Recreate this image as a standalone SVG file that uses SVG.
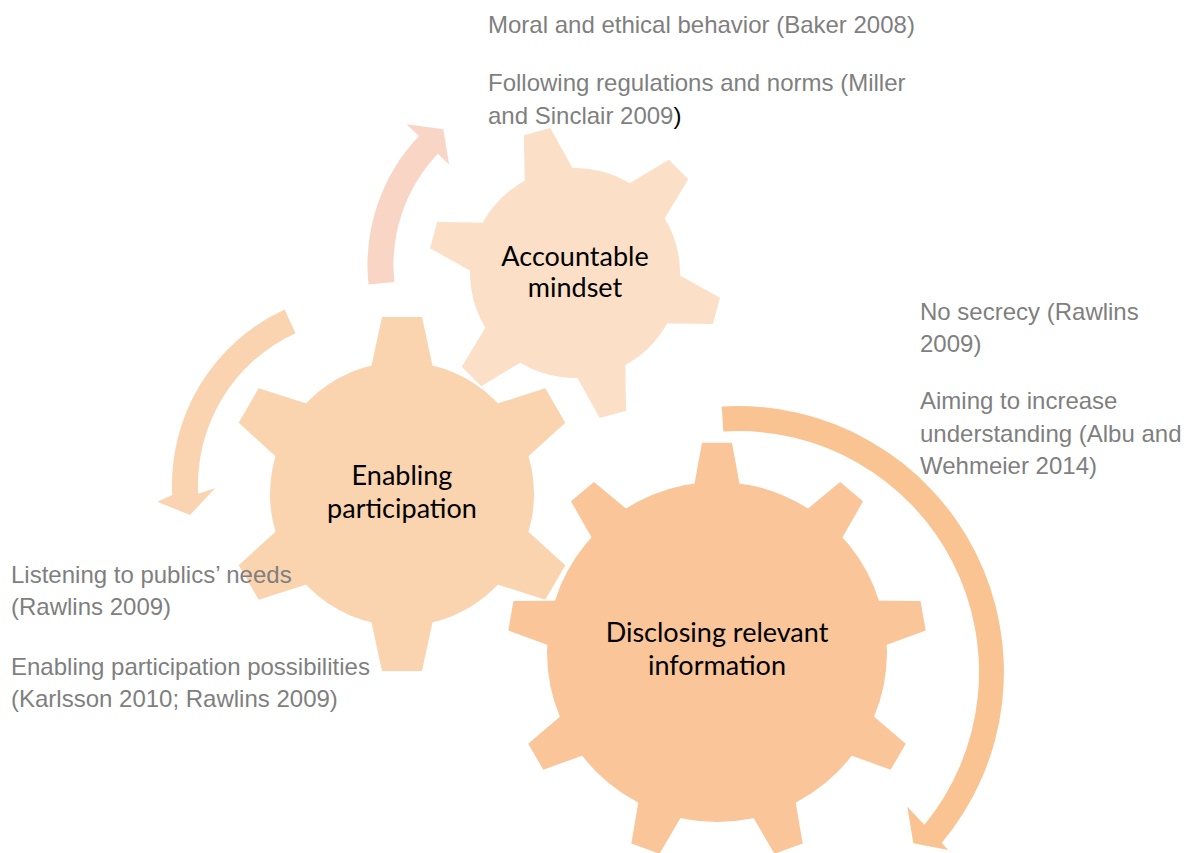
<svg xmlns="http://www.w3.org/2000/svg" xmlns:xlink="http://www.w3.org/1999/xlink" width="1192" height="853" viewBox="0 0 1192 853">
  <style>
    .halo { fill: #ffffff; stroke: #ffffff; stroke-width: 3; }
    .label { font-family: Lato, "Noto Sans", sans-serif; font-size: 27px; fill: #000000; text-anchor: middle; }
    .note { font-family: "Liberation Sans", Arial, sans-serif; font-size: 24px; fill: #7f7f7f; }
  </style>
  <defs>
    <!-- small gear: six teeth, body radius 105 -->
    <polygon id="tooth-s" points="-30.2,-80 -13.7,-146.4 13.7,-146.4 30.2,-80"/>
    <g id="gear-s" transform="rotate(-15)">
      <circle r="105"/>
      <use xlink:href="#tooth-s"/>
      <use xlink:href="#tooth-s" transform="rotate(60)"/>
      <use xlink:href="#tooth-s" transform="rotate(120)"/>
      <use xlink:href="#tooth-s" transform="rotate(180)"/>
      <use xlink:href="#tooth-s" transform="rotate(240)"/>
      <use xlink:href="#tooth-s" transform="rotate(300)"/>
    </g>
    <!-- medium gear: six teeth, body radius 132 -->
    <polygon id="tooth-m" points="-36.6,-100 -20,-177 20,-177 36.6,-100"/>
    <g id="gear-m">
      <circle r="132"/>
      <use xlink:href="#tooth-m"/>
      <use xlink:href="#tooth-m" transform="rotate(60)"/>
      <use xlink:href="#tooth-m" transform="rotate(120)"/>
      <use xlink:href="#tooth-m" transform="rotate(180)"/>
      <use xlink:href="#tooth-m" transform="rotate(240)"/>
      <use xlink:href="#tooth-m" transform="rotate(300)"/>
    </g>
    <!-- large gear: nine teeth, body radius 170 -->
    <polygon id="tooth-l" points="-27.6,-140 -15,-209.3 15,-209.3 27.6,-140"/>
    <g id="gear-l">
      <circle r="170"/>
      <use xlink:href="#tooth-l"/>
      <use xlink:href="#tooth-l" transform="rotate(40)"/>
      <use xlink:href="#tooth-l" transform="rotate(80)"/>
      <use xlink:href="#tooth-l" transform="rotate(120)"/>
      <use xlink:href="#tooth-l" transform="rotate(160)"/>
      <use xlink:href="#tooth-l" transform="rotate(200)"/>
      <use xlink:href="#tooth-l" transform="rotate(240)"/>
      <use xlink:href="#tooth-l" transform="rotate(280)"/>
      <use xlink:href="#tooth-l" transform="rotate(320)"/>
    </g>
  </defs>

  <rect width="1192" height="853" fill="#ffffff"/>

  <!-- circular arrows turning round each gear -->
  <g id="connectors">
    <path id="arrow-accountable" fill="#f8d5c5" d="M 368.53 284.60 A 187.5 187.5 0 0 1 418.99 135.93 L 406.66 124.23 L 443.3 129.3 L 449.10 164.50 L 437.85 153.83 A 161.5 161.5 0 0 0 394.39 281.88 Z"/>
    <path id="arrow-participation" fill="#fad3b0" d="M 284.66 309.52 A 193 193 0 0 0 172.26 495.10 L 157.3 501.7 L 190 515 L 215 488.3 L 198.23 493.74 A 167 167 0 0 1 295.48 333.16 Z"/>
    <path id="arrow-disclosing" fill="#f9c392" d="M 721.76 406.50 A 266 266 0 0 1 941.7 843.0 L 948.3 850 L 913.3 843.3 L 907.3 806.7 L 924.4 824.8 A 241 241 0 0 0 723.29 431.45 Z"/>
  </g>

  <g id="node-accountable">
    <use xlink:href="#gear-s" transform="translate(575,273)" class="halo"/>
    <use xlink:href="#gear-s" transform="translate(575,273)" fill="#fbdfc7"/>
    <text class="label" x="575" y="266">Accountable</text>
    <text class="label" x="575" y="297">mindset</text>
  </g>

  <g id="node-participation">
    <use xlink:href="#gear-m" transform="translate(402,494)" class="halo"/>
    <use xlink:href="#gear-m" transform="translate(402,494)" fill="#fad3af"/>
    <text class="label" x="402" y="485">Enabling</text>
    <text class="label" x="402" y="518">participation</text>
  </g>

  <g id="node-disclosing">
    <use xlink:href="#gear-l" transform="translate(717,652)" class="halo"/>
    <use xlink:href="#gear-l" transform="translate(717,652)" fill="#f9c599"/>
    <text class="label" x="717" y="642">Disclosing relevant</text>
    <text class="label" x="717" y="675">information</text>
  </g>

  <!-- supporting notes beside each gear -->
  <g id="notes-accountable" class="note">
    <text x="488" y="33">Moral and ethical behavior (Baker 2008)</text>
    <text x="488" y="91">Following regulations and norms (Miller</text>
    <text x="488" y="124">and Sinclair 2009<tspan fill="#000000">)</tspan></text>
  </g>
  <g id="notes-disclosing" class="note">
    <text x="920" y="320">No secrecy (Rawlins</text>
    <text x="920" y="352">2009)</text>
    <text x="920" y="409">Aiming to increase</text>
    <text x="920" y="442">understanding (Albu and</text>
    <text x="920" y="474">Wehmeier 2014)</text>
  </g>
  <g id="notes-participation" class="note">
    <text x="11" y="583">Listening to publics’ needs</text>
    <text x="11" y="615">(Rawlins 2009)</text>
    <text x="11" y="675">Enabling participation possibilities</text>
    <text x="11" y="707">(Karlsson 2010; Rawlins 2009)</text>
  </g>
</svg>
